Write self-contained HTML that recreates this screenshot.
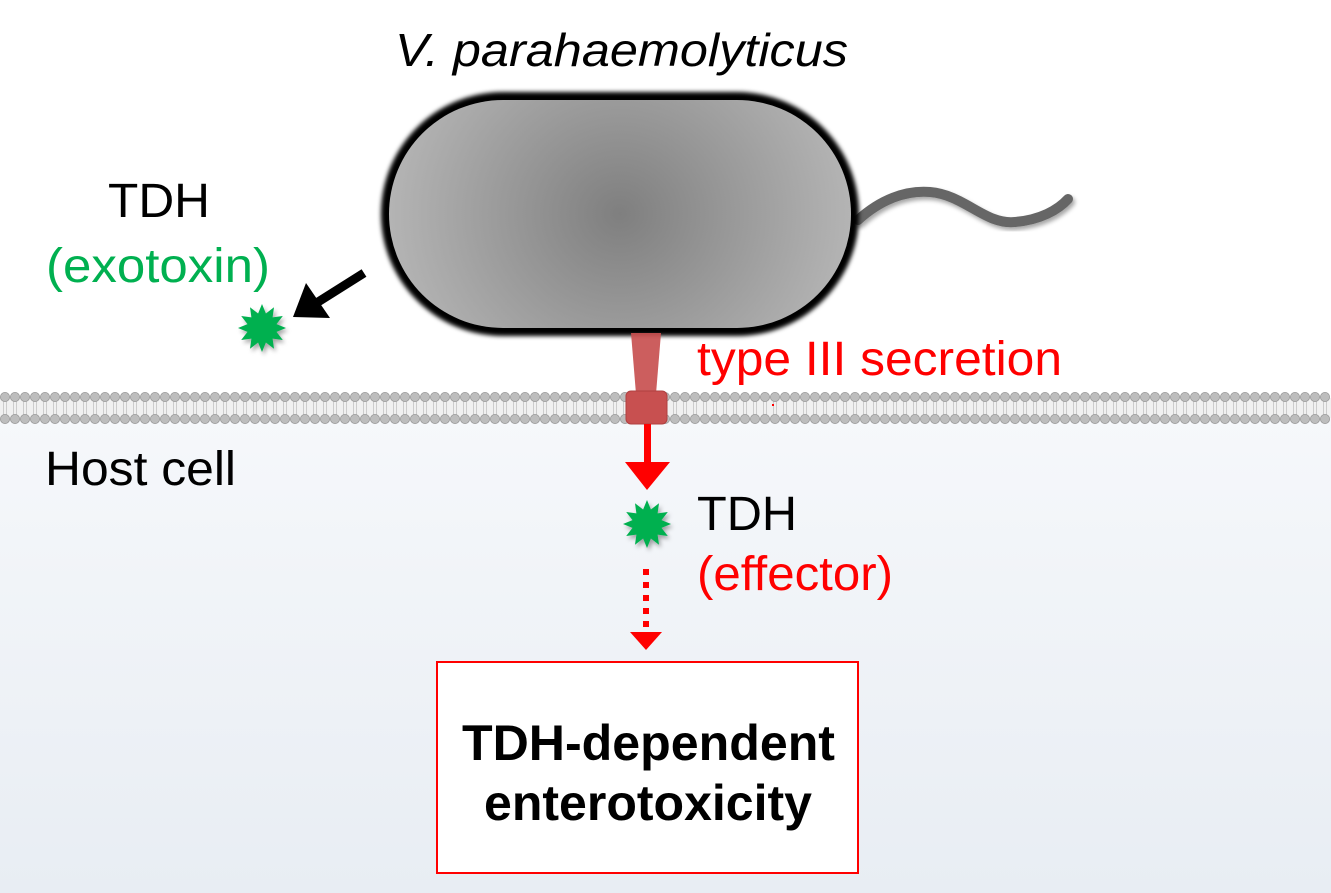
<!DOCTYPE html>
<html><head><meta charset="utf-8"><style>
html,body{margin:0;padding:0}
body{width:1331px;height:893px;overflow:hidden;background:#fff;position:relative;font-family:"Liberation Sans",Arial,sans-serif}
</style></head><body>
<svg id="s" width="1331" height="893" viewBox="0 0 1331 893" xmlns="http://www.w3.org/2000/svg" style="position:absolute;left:0;top:0">
<defs>
<linearGradient id="bg" x1="0" y1="0" x2="0" y2="1"><stop offset="0" stop-color="#f6f8fb"/><stop offset="1" stop-color="#e8edf3"/></linearGradient>
<radialGradient id="cell" cx="0.5" cy="0.5" r="0.5" gradientTransform="translate(0.5 0.5) scale(1 1.9) translate(-0.5 -0.5)"><stop offset="0" stop-color="#7f7f7f"/><stop offset="1" stop-color="#b4b4b4"/></radialGradient>
<filter id="blur" x="-10%" y="-10%" width="120%" height="120%"><feGaussianBlur stdDeviation="2"/></filter>
<filter id="sh" x="-30%" y="-30%" width="160%" height="160%"><feDropShadow dx="2" dy="3" stdDeviation="2" flood-opacity="0.35"/></filter>
</defs>
<rect x="0" y="408" width="1331" height="485" fill="url(#bg)"/>
<g id="mem"></g>
<path d="M858 220 C880 200 905 190 930 192 C965 195 985 225 1015 222 C1040 220 1058 210 1068 199" fill="none" stroke="#666" stroke-width="10" stroke-linecap="round" filter="url(#sh)"/>
<rect x="381" y="92" width="478" height="244" rx="122" fill="#000" filter="url(#blur)"/>
<rect x="389" y="100" width="462" height="228" rx="114" fill="url(#cell)"/>
<polygon points="631,333 661,333 656,394 636,394" fill="#c85050" opacity="0.92"/>
<rect x="626" y="391" width="41" height="33" rx="5" fill="#c85050" stroke="#b04040" stroke-width="1"/>
<rect x="644" y="424" width="7" height="40" fill="#ff0000"/>
<polygon points="625,462 670,462 647,490" fill="#ff0000"/>
<rect x="772" y="404" width="2" height="2" fill="#ff0000"/>
<g fill="#ff0000"><rect x="643" y="569" width="6" height="6"/><rect x="643" y="582" width="6" height="6"/><rect x="643" y="595" width="6" height="6"/><rect x="643" y="608" width="6" height="6"/><rect x="643" y="621" width="6" height="6"/></g>
<polygon points="630,632 662,632 646,650" fill="#ff0000"/>
<line x1="364" y1="273" x2="318" y2="302" stroke="#000" stroke-width="9"/>
<polygon points="293,317 306,283 330,318" fill="#000"/>
<g id="stars"></g>
<rect x="437" y="662" width="421" height="211" fill="#fff" stroke="#ff0000" stroke-width="2"/>
<g font-family="Liberation Sans, Arial, sans-serif" lengthAdjust="spacingAndGlyphs">
<text x="395" y="66" font-size="46" font-style="italic" textLength="453" lengthAdjust="spacingAndGlyphs" fill="#000">V. parahaemolyticus</text>
<text x="108" y="217" font-size="48" textLength="102" lengthAdjust="spacingAndGlyphs" fill="#000">TDH</text>
<text x="46" y="282" font-size="48" textLength="224" lengthAdjust="spacingAndGlyphs" fill="#00b050">(exotoxin)</text>
<text x="697" y="375" font-size="48" textLength="365" lengthAdjust="spacingAndGlyphs" fill="#ff0000">type III secretion</text>
<text x="45" y="485" font-size="48" textLength="191" lengthAdjust="spacingAndGlyphs" fill="#000">Host cell</text>
<text x="697" y="530" font-size="48" textLength="100" lengthAdjust="spacingAndGlyphs" fill="#000">TDH</text>
<text x="697" y="590" font-size="48" textLength="196" lengthAdjust="spacingAndGlyphs" fill="#ff0000">(effector)</text>
<text x="462" y="760" font-size="50" font-weight="bold" textLength="373" lengthAdjust="spacingAndGlyphs" fill="#000">TDH-dependent</text>
<text x="484" y="820" font-size="50" font-weight="bold" textLength="328" lengthAdjust="spacingAndGlyphs" fill="#000">enterotoxicity</text>
</g>
</svg>
<script>
var mem=document.getElementById('mem');
var h='';
h+='<rect x="0" y="398" width="1331" height="20" fill="#f0f0f0"/>';
for(var x=5;x<1331;x+=10){
 h+='<line x1="'+(x-1.5)+'" y1="400" x2="'+(x-1.5)+'" y2="416" stroke="#ccc" stroke-width="1"/>';
 h+='<line x1="'+(x+1.5)+'" y1="400" x2="'+(x+1.5)+'" y2="416" stroke="#ccc" stroke-width="1"/>';
 h+='<circle cx="'+x+'" cy="397" r="4.6" fill="#bdbdbd" stroke="#999" stroke-width="0.8"/>';
 h+='<circle cx="'+x+'" cy="419" r="4.6" fill="#bdbdbd" stroke="#999" stroke-width="0.8"/>';
}
mem.innerHTML=h;
function star(cx,cy,R,r){var p=[];for(var i=0;i<24;i++){var a=Math.PI*i/12-Math.PI/2;var rr=i%2?r:R;p.push((cx+rr*Math.cos(a)).toFixed(1)+','+(cy+rr*Math.sin(a)).toFixed(1));}
return '<polygon points="'+p.join(' ')+'" fill="#00b050" filter="url(#sh)"/>';}
document.getElementById('stars').innerHTML=star(262,328,24,15)+star(647,524,24,15);
</script>
</body></html>
